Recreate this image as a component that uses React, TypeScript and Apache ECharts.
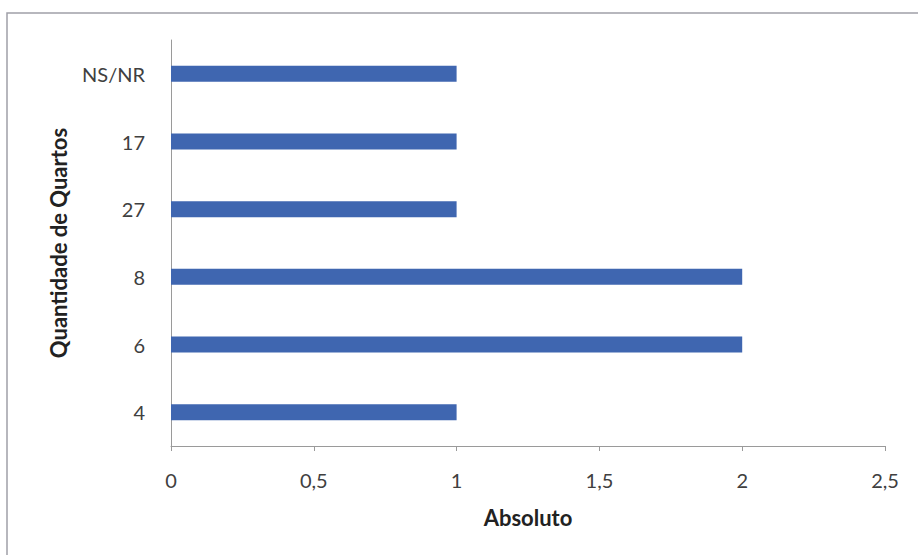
import React, { useEffect, useRef } from "react";
import * as echarts from "echarts";

const categories = ["4", "6", "8", "27", "17", "NS/NR"];
const values = [1, 2, 2, 1, 1, 1];
const xTicks = { min: 0, max: 2.5, interval: 0.5 };
const xTitle = "Absoluto";
const yTitle = "Quantidade de Quartos";

export default function App() {
  const ref = useRef<HTMLDivElement>(null);
  useEffect(() => {
    document.body.style.margin = "0";
    const chart = echarts.init(ref.current!, null, { renderer: "svg" });
    const font = "Lato, 'Open Sans', sans-serif";
    chart.setOption({
      animation: false,
      backgroundColor: "#ffffff",
      textStyle: { fontFamily: font },
      graphic: [
        {
          type: "rect",
          shape: { x: 7, y: 13, width: 940, height: 580 },
          style: { fill: "none", stroke: "#a0a0a8", lineWidth: 1.5 },
          silent: true,
        },
      ],
      grid: { left: 171, right: 33, top: 40, bottom: 109, containLabel: false },
      xAxis: {
        type: "value",
        min: xTicks.min,
        max: xTicks.max,
        interval: xTicks.interval,
        axisLine: { show: true, lineStyle: { color: "#9a9a9a", width: 1 } },
        axisTick: { show: true, length: 5, lineStyle: { color: "#9a9a9a" } },
        splitLine: { show: false },
        axisLabel: {
          color: "#404040",
          fontSize: 20,
          fontFamily: font,
          margin: 24,
          formatter: (v: number) => String(v).replace(".", ","),
        },
        name: xTitle,
        nameLocation: "middle",
        nameGap: 60,
        nameTextStyle: { color: "#222", fontSize: 22, fontWeight: "bold", fontFamily: font },
      },
      yAxis: {
        type: "category",
        data: categories,
        axisLine: { show: true, lineStyle: { color: "#9a9a9a", width: 1 } },
        axisTick: { show: false },
        axisLabel: { color: "#404040", fontSize: 20, fontFamily: font, margin: 26 },
        name: yTitle,
        nameLocation: "middle",
        nameGap: 102,
        nameTextStyle: { color: "#222", fontSize: 22, fontWeight: "bold", fontFamily: font },
      },
      series: [
        {
          type: "bar",
          data: values,
          barWidth: 16,
          itemStyle: { color: "#3f66b0" },
        },
      ],
    });
    return () => chart.dispose();
  }, []);
  return <div ref={ref} style={{ width: 918, height: 555, position: "absolute", left: 0, top: 0 }} />;
}
